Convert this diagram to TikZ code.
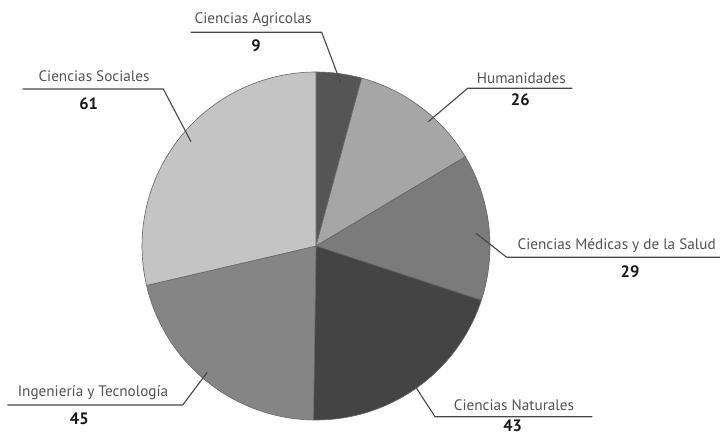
\documentclass[tikz,border=0pt]{standalone}
\usepackage{fontspec}
\setmainfont{PT Sans}
\begin{document}
\begin{tikzpicture}[x=1pt,y=1pt,
  slice/.style={draw=black!60,line width=0.6pt,line join=round},
  lbl/.style={text=black!68,font=\fontsize{15.2}{17}\selectfont,inner sep=0pt},
  num/.style={text=black!90,font=\fontsize{16.5}{18}\selectfont\bfseries,inner sep=0pt},
  lead/.style={draw=black!72,line width=1.1pt}]
\definecolor{cAgr}{HTML}{555555}
\definecolor{cHum}{HTML}{A6A6A6}
\definecolor{cMed}{HTML}{7B7B7B}
\definecolor{cNat}{HTML}{444444}
\definecolor{cIng}{HTML}{858585}
\definecolor{cSoc}{HTML}{C4C4C4}
\useasboundingbox (0,0) rectangle (720,-435);
\fill[white] (0,0) rectangle (720,-435);
\coordinate (C) at (316,-246);
% pie slices, clockwise from the top (total 213)
\filldraw[slice,fill=cAgr] (C) -- ++(90:174pt) arc[start angle=90,end angle=74.789,radius=174pt] -- cycle;
\filldraw[slice,fill=cHum] (C) -- ++(74.789:174pt) arc[start angle=74.789,end angle=30.845,radius=174pt] -- cycle;
\filldraw[slice,fill=cMed] (C) -- ++(30.845:174pt) arc[start angle=30.845,end angle=-18.169,radius=174pt] -- cycle;
\filldraw[slice,fill=cNat] (C) -- ++(-18.169:174pt) arc[start angle=-18.169,end angle=-90.845,radius=174pt] -- cycle;
\filldraw[slice,fill=cIng] (C) -- ++(-90.845:174pt) arc[start angle=-90.845,end angle=-166.901,radius=174pt] -- cycle;
\filldraw[slice,fill=cSoc] (C) -- ++(-166.901:174pt) arc[start angle=-166.901,end angle=-270,radius=174pt] -- cycle;

% labels with leader lines
\node[lbl] (agT) at (253,-20) {Ciencias Agricolas};
\node[num] (agN) at (256,-46) {9};
\coordinate (agP) at (340.7,-82.7); \coordinate (agK) at (321.7,-32.3); \coordinate (agE) at (190.7,-32.3);
\draw[lead] (agP) -- (agK) -- (agE);

\node[lbl] (soT) at (94,-76) {Ciencias Sociales};
\node[num] (soN) at (88.7,-104) {61};
\coordinate (soP) at (191,-141.7); \coordinate (soK) at (163.3,-89); \coordinate (soE) at (22.7,-89);
\draw[lead] (soP) -- (soK) -- (soE);

\node[lbl] (huT) at (521.3,-78.5) {Humanidades};
\node[num] (huN) at (520.3,-100) {26};
\coordinate (huP) at (428.3,-121.7); \coordinate (huK) at (467.7,-88.3); \coordinate (huE) at (572.3,-88.3);
\draw[lead] (huP) -- (huK) -- (huE);

\node[lbl] (meT) at (616.7,-245.5) {Ciencias Médicas y de la Salud};
\node[num] (meN) at (630,-271.7) {29};
\coordinate (meP) at (476,-233.3); \coordinate (meK) at (506.7,-257.3); \coordinate (meE) at (720,-257.3);
\draw[lead] (meP) -- (meK) -- (meE);

\node[lbl] (naT) at (514,-405.2) {Ciencias Naturales};
\node[num] (naN) at (512.7,-426) {43};
\coordinate (naP) at (413.3,-383.3); \coordinate (naK) at (435,-416.7); \coordinate (naE) at (592.3,-416.7);
\draw[lead] (naP) -- (naK) -- (naE);

\node[lbl] (inT) at (93,-393) {Ingeniería y Tecnología};
\node[num] (inN) at (79.3,-418.3) {45};
\coordinate (inP) at (207.3,-372.3); \coordinate (inK) at (182.7,-405); \coordinate (inE) at (7.3,-405);
\draw[lead] (inP) -- (inK) -- (inE);
\end{tikzpicture}
\end{document}
